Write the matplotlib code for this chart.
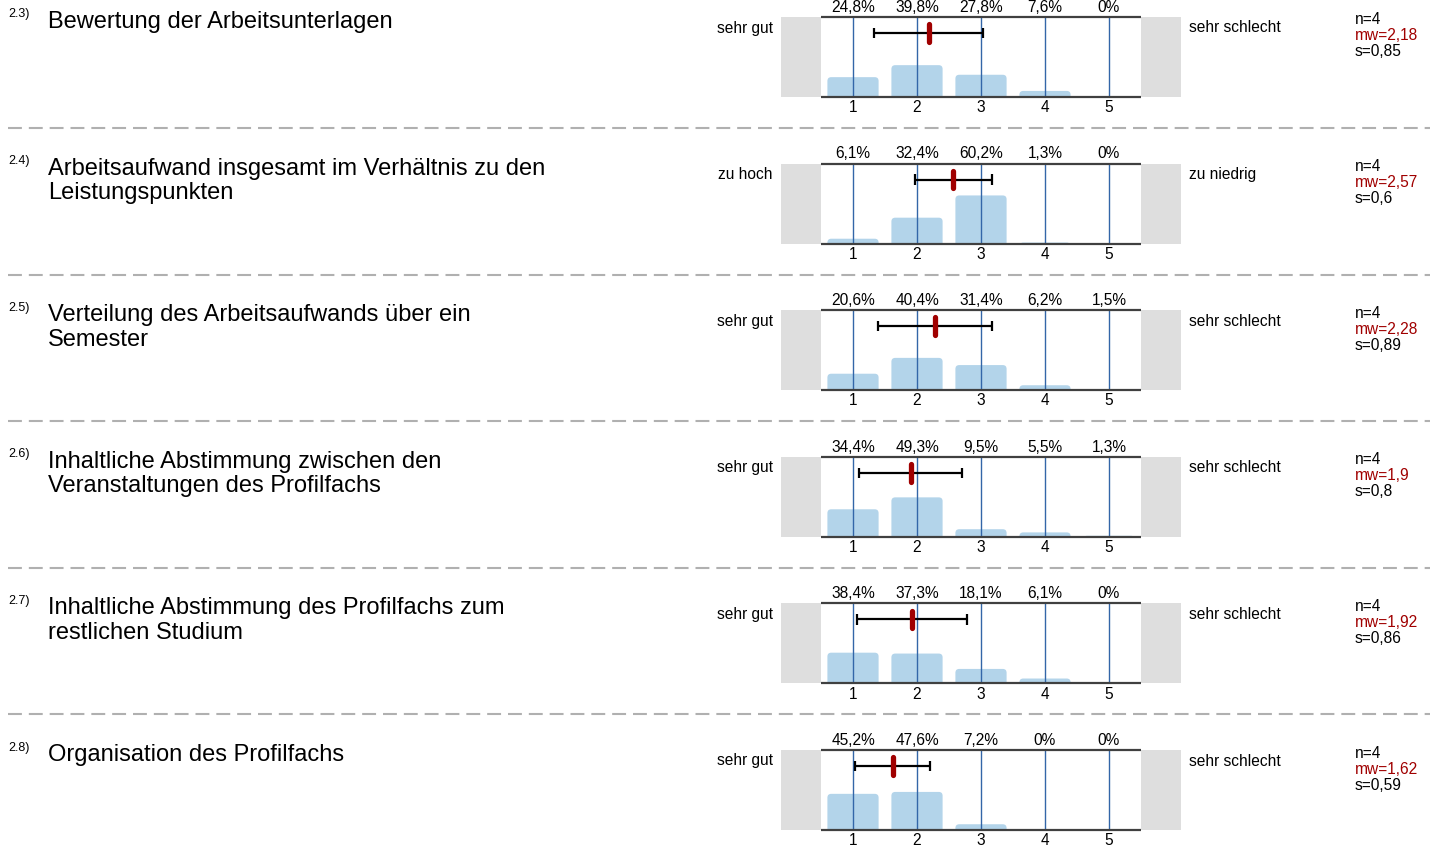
import numpy as np
import matplotlib.pyplot as plt
from matplotlib.patches import FancyBboxPatch, Rectangle

plt.rcParams['font.family'] = ['Liberation Sans', 'DejaVu Sans']

# Fragen und Ergebnisse
nummern = ['2.3)', '2.4)', '2.5)', '2.6)', '2.7)', '2.8)']
fragen = [
    'Bewertung der Arbeitsunterlagen',
    'Arbeitsaufwand insgesamt im Verhältnis zu den\nLeistungspunkten',
    'Verteilung des Arbeitsaufwands über ein\nSemester',
    'Inhaltliche Abstimmung zwischen den\nVeranstaltungen des Profilfachs',
    'Inhaltliche Abstimmung des Profilfachs zum\nrestlichen Studium',
    'Organisation des Profilfachs',
]
pol_links = ['sehr gut', 'zu hoch', 'sehr gut', 'sehr gut', 'sehr gut', 'sehr gut']
pol_rechts = ['sehr schlecht', 'zu niedrig', 'sehr schlecht', 'sehr schlecht',
              'sehr schlecht', 'sehr schlecht']
anteile = [
    [24.8, 39.8, 27.8, 7.6, 0],
    [6.1, 32.4, 60.2, 1.3, 0],
    [20.6, 40.4, 31.4, 6.2, 1.5],
    [34.4, 49.3, 9.5, 5.5, 1.3],
    [38.4, 37.3, 18.1, 6.1, 0],
    [45.2, 47.6, 7.2, 0, 0],
]
n_werte = [4, 4, 4, 4, 4, 4]
mittelwerte = [2.18, 2.57, 2.28, 1.9, 1.92, 1.62]
stdabw = [0.85, 0.6, 0.89, 0.8, 0.86, 0.59]
skala = [1, 2, 3, 4, 5]

W, H = 1439, 860
fig = plt.figure(figsize=(W / 100, H / 100), dpi=100)

# Hintergrund-Achse in Pixelkoordinaten fuer Texte und Trennlinien
bg = fig.add_axes([0, 0, 1, 1])
bg.set_xlim(0, W)
bg.set_ylim(H, 0)
bg.axis('off')

rot = '#a00000'
fs = 11.2


def de(v):
    return ('%g' % v).replace('.', ',')


BOX_L, BOX_R = 781, 1181
ROW_H = 146.6
for i in range(len(fragen)):
    top = 17 + ROW_H * i
    bottom = top + 80

    # Beschriftungen links
    bg.text(8, top + 0.5, nummern[i], fontsize=9, va='baseline', ha='left')
    for j, zeile in enumerate(fragen[i].split('\n')):
        bg.text(48, top + 11 + 24.5 * j, zeile, fontsize=17, va='baseline',
                ha='left')
    bg.text(773, top + 15.5, pol_links[i], fontsize=fs, va='baseline', ha='right')
    bg.text(1189, top + 15.5, pol_rechts[i], fontsize=fs, va='baseline', ha='left')

    # Kennwerte
    bg.text(1355, top + 7.5, 'n=%d' % n_werte[i], fontsize=fs, va='baseline')
    bg.text(1355, top + 23.5, 'mw=' + de(mittelwerte[i]), fontsize=fs,
            va='baseline', color=rot)
    bg.text(1355, top + 39.5, 's=' + de(stdabw[i]), fontsize=fs, va='baseline')

    # Trennlinie
    if i < len(fragen) - 1:
        bg.plot([8, 1430], [top + 111, top + 111], color='#b0b0b0', lw=1.5,
                dashes=(10 / 1.5, 5 / 1.5), solid_capstyle='butt')

    # Diagramm
    ax = fig.add_axes([BOX_L / W, 1 - bottom / H, (BOX_R - BOX_L) / W, 80 / H])
    ax.set_xlim(-0.125, 6.125)
    ax.set_ylim(0, 1)
    ax.axis('off')

    ax.add_patch(Rectangle((-0.125, 0), 0.625, 1, color='#dedede', lw=0))
    ax.add_patch(Rectangle((5.5, 0), 0.625, 1, color='#dedede', lw=0))

    for x, p in zip(skala, anteile[i]):
        if p > 0:
            ax.add_patch(FancyBboxPatch((x - 0.4, -0.1), 0.8, p / 100 + 0.1,
                                        boxstyle='round,pad=0,rounding_size=0.06',
                                        mutation_aspect=0.8, fc='#b3d4ea', ec='none'))
        ax.text(x, 1.065, '%s%%' % de(p), fontsize=fs, ha='center',
                va='baseline', clip_on=False)
        ax.text(x, -0.19, str(x), fontsize=fs, ha='center', va='baseline',
                clip_on=False)

    ax.vlines(skala, 0, 1, color='#3366a8', lw=1)
    ax.plot([0.5, 5.5], [1, 1], color='#404040', lw=1.6, clip_on=False,
            solid_capstyle='butt')
    ax.plot([0.5, 5.5], [0, 0], color='#404040', lw=1.6, clip_on=False,
            solid_capstyle='butt')

    # Mittelwert und Standardabweichung
    m, s = mittelwerte[i], stdabw[i]
    ax.plot([m - s, m + s], [0.8, 0.8], color='black', lw=1.6,
            solid_capstyle='butt')
    ax.vlines([m - s, m + s], 0.8 - 0.065, 0.8 + 0.065, color='black', lw=1.6)
    ax.plot([m, m], [0.8 - 0.11, 0.8 + 0.11], color=rot, lw=3.8,
            solid_capstyle='round')

fig.savefig('out.png', dpi=100)
